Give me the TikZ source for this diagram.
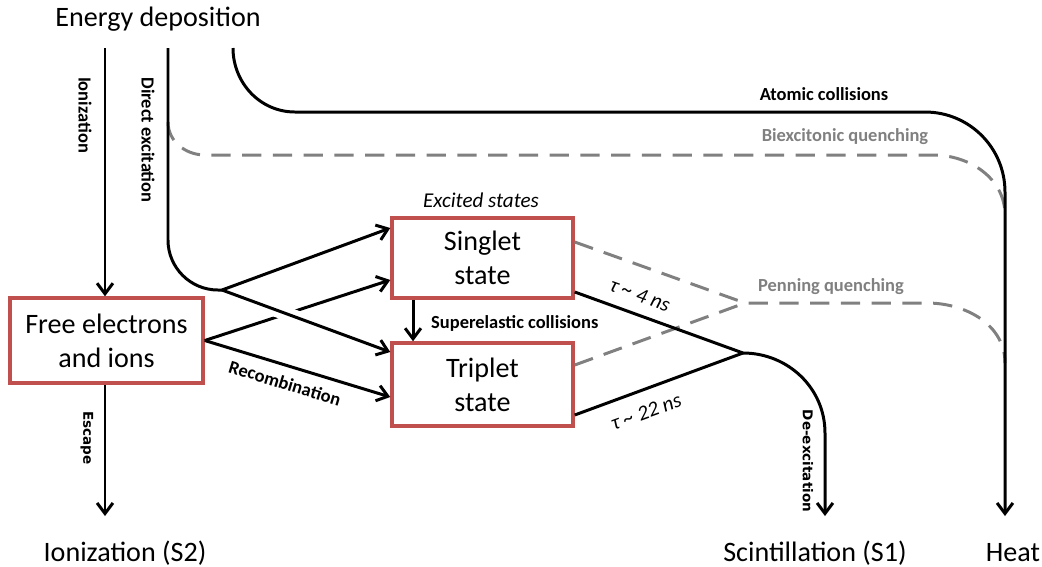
\documentclass[tikz,border=0pt]{standalone}
\usepackage{fontspec}
\setmainfont{Carlito}
\newfontfamily\sidefont{DejaVu Sans}
\usetikzlibrary{arrows.meta,calc}
\definecolor{boxred}{HTML}{C0504D}
\definecolor{quenchgray}{HTML}{808080}

\begin{document}
\begin{tikzpicture}[
			x=0.02cm, y=-0.02cm,
			state box/.style={draw=boxred, line width=2pt, align=center, minimum width=3.62cm, minimum height=1.6cm, font=\fontsize{16}{19.3}\selectfont},
			big label/.style={anchor=base, font=\fontsize{16}{19}\selectfont},
			note label/.style={font=\fontsize{12}{14}\selectfont\itshape},
			flow label/.style={font=\fontsize{10.5}{12}\selectfont\bfseries},
			side label/.style={font=\fontsize{7.7}{9}\selectfont\sidefont\bfseries},
			plain flow/.style={line width=1.7pt},
			flow/.style={plain flow, -{Straight Barb[length=6pt,width=9pt]}},
			quench line/.style={draw=quenchgray, line width=1.7pt, dash pattern=on 11pt off 6.5pt}
			]
			\useasboundingbox (0,0) rectangle (1042,566);
			
			\node[big label] (energy) at (158,26) {Energy deposition};
			\node[state box, minimum width=3.86cm, minimum height=1.7cm] (free) at (106.5,340.5) {Free electrons\\and ions};
			\node[state box] (singlet) at (482.5,258) {Singlet\\state};
			\node[state box, minimum height=1.66cm] (triplet) at (482.5,384.5) {Triplet\\state};
			\node[note label] (excited) at (481,200) {Excited states};
			\node[big label] (ion out) at (125,561) {Ionization (S2)};
			\node[big label] (scint out) at (815,561) {Scintillation (S1)};
			\node[big label] (heat out) at (1013,561) {Heat};
			
			\coordinate (ion top) at (105,48);
			\coordinate (s2 tip) at (105,516);
			\coordinate (dex top) at (168,48);
			\coordinate (fork) at (222,290);
			\coordinate (atom top) at (233,48);
			\coordinate (atom left) at (295,112);
			\coordinate (atom right) at (925,112);
			\coordinate (heat bend) at (1005,192);
			\coordinate (heat tip) at (1005,516);
			\coordinate (biex start) at (168,122);
			\coordinate (biex left) at (205,155);
			\coordinate (biex right) at (933,155);
			\coordinate (biex end) at (1005,215);
			\coordinate (penning) at (745,303);
			\coordinate (penning right) at (927,303);
			\coordinate (penning end) at (1005,363);
			\coordinate (deex) at (743,353);
			\coordinate (deex bend) at (825,433);
			\coordinate (s1 tip) at (825,516);
			
			\draw[quench line] (biex start) to[out=-90,in=180] (biex left) -- (biex right) to[out=0,in=90] (biex end);
			\draw[quench line] ([yshift=0.32cm]singlet.east) -- (penning) -- (penning right) to[out=0,in=90] (penning end);
			\draw[quench line] ([yshift=0.39cm]triplet.east) -- (penning);
			
			\draw[flow] (ion top) -- (ion top |- free.north);
			\draw[flow] (s2 tip |- free.south) -- (s2 tip);
			\draw[flow] (free.east) -- ([yshift=-0.44cm]singlet.west);
			\draw[white, line width=8pt] ($(fork)!0.25!([yshift=0.65cm]triplet.west)$) -- ($(fork)!0.5!([yshift=0.65cm]triplet.west)$);
			\draw[flow] (fork) -- ([yshift=0.65cm]triplet.west);
			\draw[flow] (fork) -- ([yshift=0.6cm]singlet.west);
			\draw[plain flow, rounded corners=1cm] (dex top) |- (fork);
			\draw[flow] (free.east) -- ([yshift=-0.25cm]triplet.west);
			\draw[flow] ([xshift=-1.39cm]singlet.south) -- ([xshift=-1.39cm]triplet.north);
			\draw[plain flow] ([yshift=-0.68cm]singlet.east) -- (deex);
			\draw[plain flow] ([yshift=-0.61cm]triplet.east) -- (deex);
			\draw[flow] (deex) to[out=0,in=90] (deex bend) -- (s1 tip);
			\draw[flow] (atom top) to[out=-90,in=180] (atom left) -- (atom right) to[out=0,in=90] (heat bend) -- (heat tip);
			
			\node[flow label, rotate=-90] (ionization label) at (85,115) {Ionization};
			\node[flow label, rotate=-90] (direct label) at (148,140) {Direct excitation};
			\node[side label, rotate=-90] (escape label) at (87,438) {Escape};
			\node[side label, rotate=-90] (deex label) at (808,461) {De-excitation};
			\node[flow label, rotate=-17] (recomb label) at (285,383) {Recombination};
			\node[flow label, anchor=west] (superelastic label) at (425,323) {Superelastic collisions};
			\node[flow label] (atomic label) at (824,94) {Atomic collisions};
			\node[flow label, text=quenchgray] (biex label) at (845,137) {Biexcitonic quenching};
			\node[flow label, text=quenchgray] (penning label) at (831,287) {Penning quenching};
			\node[note label, rotate=-20] (tau singlet) at (640,295) {τ \textasciitilde{} 4 ns};
			\node[note label, rotate=20] (tau triplet) at (646,412) {τ \textasciitilde{} 22 ns};
		\end{tikzpicture}
\end{document}
